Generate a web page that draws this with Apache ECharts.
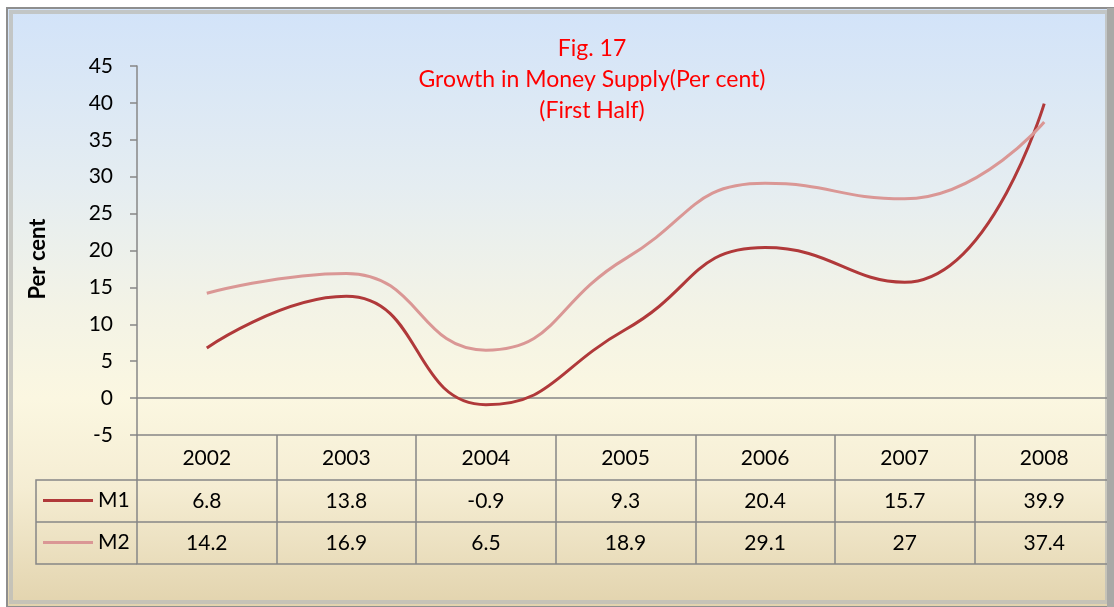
<!DOCTYPE html>
<html>
<head>
<meta charset="utf-8">
<script src="https://cdn.jsdelivr.net/npm/echarts@6/dist/echarts.min.js"></script>
<style>
  html, body { margin: 0; padding: 0; background: #fff; }
  #chart { width: 1114px; height: 607px; }
</style>
</head>
<body>
<div id="chart"></div>
<script>
// data
const years = ["2002", "2003", "2004", "2005", "2006", "2007", "2008"];
const m1 = [6.8, 13.8, -0.9, 9.3, 20.4, 15.7, 39.9];
const m2 = [14.2, 16.9, 6.5, 18.9, 29.1, 27, 37.4];
const yMin = -5;
const yMax = 45;
const yStep = 5;

const FONT = "Lato";
const LINE_COLOR = "#878787";
const M1_COLOR = "#b0393a";
const M2_COLOR = "#da9795";

const chart = echarts.init(document.getElementById("chart"));

// one x axis per table row, the ticks make the cell borders
function tableAxis(offset, tickLen, margin, formatter) {
  return {
    type: "category",
    data: years,
    position: "bottom",
    offset: offset,
    boundaryGap: true,
    axisLine: { show: true, onZero: false, lineStyle: { color: LINE_COLOR, width: 1.5 } },
    axisTick: {
      show: tickLen > 0,
      interval: 0,
      length: tickLen,
      lineStyle: { color: LINE_COLOR, width: 1.5 }
    },
    axisLabel: {
      show: !!formatter,
      interval: 0,
      margin: margin,
      verticalAlign: "middle",
      color: "#000",
      fontFamily: FONT,
      fontSize: 21,
      formatter: formatter
    },
    splitLine: { show: false }
  };
}

const option = {
  animation: false,
  backgroundColor: "#fff",
  grid: {
    left: 137,
    top: 66,
    width: 985,
    height: 369,
    containLabel: false
  },
  xAxis: [
    {
      type: "category",
      data: years,
      boundaryGap: true,
      axisLine: { show: true, onZero: true, lineStyle: { color: LINE_COLOR, width: 1.5 } },
      axisTick: { show: false },
      axisLabel: { show: false },
      splitLine: { show: false }
    },
    tableAxis(0, 45, 23, v => v),
    tableAxis(45, 42, 21, (v, i) => String(m1[i])),
    tableAxis(87, 42, 21, (v, i) => String(m2[i])),
    tableAxis(129, 0, 0, null)
  ],
  yAxis: {
    type: "value",
    min: yMin,
    max: yMax,
    interval: yStep,
    axisLine: { show: true, lineStyle: { color: LINE_COLOR, width: 1.5 } },
    axisTick: { show: true, length: 7, lineStyle: { color: LINE_COLOR, width: 1.5 } },
    axisLabel: {
      margin: 24,
      color: "#000",
      fontFamily: FONT,
      fontSize: 21
    },
    splitLine: { show: false }
  },
  legend: [
    {
      data: ["M1"],
      left: 43,
      top: 490,
      padding: 0,
      icon: "rect",
      itemWidth: 50,
      itemHeight: 3,
      selectedMode: false,
      textStyle: { color: "#000", fontFamily: FONT, fontSize: 21 }
    },
    {
      data: ["M2"],
      left: 43,
      top: 532,
      padding: 0,
      icon: "rect",
      itemWidth: 50,
      itemHeight: 3,
      selectedMode: false,
      textStyle: { color: "#000", fontFamily: FONT, fontSize: 21 }
    }
  ],
  graphic: [
    // framed background
    {
      type: "rect",
      z: -20,
      silent: true,
      shape: { x: 7, y: 8, width: 1107, height: 599 },
      style: {
        fill: new echarts.graphic.LinearGradient(0, 0, 0, 1, [
          { offset: 0, color: "#d2e3f9" },
          { offset: 0.3, color: "#e5edf1" },
          { offset: 0.5, color: "#f3f3e6" },
          { offset: 0.65, color: "#fbf7e1" },
          { offset: 0.8, color: "#f5edd3" },
          { offset: 1, color: "#e2d3ad" }
        ]),
        stroke: "#8e8e8e",
        lineWidth: 2
      }
    },
    {
      type: "rect",
      z: -19,
      silent: true,
      shape: { x: 11, y: 12, width: 1096, height: 590 },
      style: { fill: null, stroke: "rgba(190,190,185,0.8)", lineWidth: 4 }
    },
    // right border covers the cut-off last column
    {
      type: "rect",
      z: 100,
      silent: true,
      shape: { x: 1107, y: 8, width: 7, height: 599 },
      style: { fill: "#a9a9a6" }
    },
    // left column of the data table
    {
      type: "polyline",
      z: 5,
      silent: true,
      shape: { points: [[137, 480], [36, 480], [36, 564], [137, 564]] },
      style: { stroke: LINE_COLOR, lineWidth: 1.5, fill: null }
    },
    {
      type: "line",
      z: 5,
      silent: true,
      shape: { x1: 36, y1: 522, x2: 137, y2: 522 },
      style: { stroke: LINE_COLOR, lineWidth: 1.5 }
    },
    // title
    {
      type: "text",
      z: 10,
      x: 592,
      y: 33,
      style: {
        text: "Fig. 17\nGrowth in Money Supply(Per cent)\n(First Half)",
        fill: "#ff0000",
        font: "23px " + FONT,
        textAlign: "center",
        lineHeight: 31
      }
    },
    // axis name
    {
      type: "text",
      z: 10,
      x: 38,
      y: 259,
      rotation: Math.PI / 2,
      style: {
        text: "Per cent",
        fill: "#000",
        font: "bold 22px " + FONT,
        textAlign: "center",
        textVerticalAlign: "middle"
      }
    }
  ],
  series: [
    {
      name: "M1",
      type: "line",
      xAxisIndex: 0,
      data: m1,
      smooth: 0.5,
      showSymbol: false,
      lineStyle: { color: M1_COLOR, width: 3 },
      itemStyle: { color: M1_COLOR }
    },
    {
      name: "M2",
      type: "line",
      xAxisIndex: 0,
      data: m2,
      smooth: 0.5,
      showSymbol: false,
      lineStyle: { color: M2_COLOR, width: 3 },
      itemStyle: { color: M2_COLOR }
    }
  ]
};

chart.setOption(option);
</script>
</body>
</html>
